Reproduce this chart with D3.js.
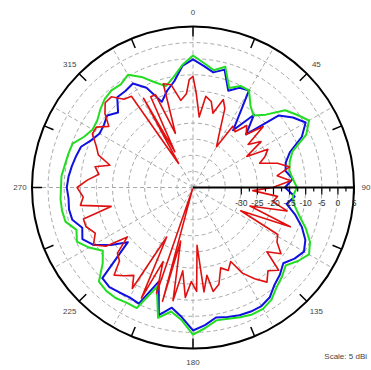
<!DOCTYPE html>
<html><head><meta charset="utf-8">
<script src="https://cdn.jsdelivr.net/npm/d3@7"></script>
<style>body{margin:0;background:#fff}svg{display:block}</style>
</head><body>
<script>
// ---- data (dBi) ----
const greenAngles = d3.range(0, 360, 5);
const greenValues = [-4.0,-6.2,-8.0,-6.2,-12.1,-10.2,-10.2,-13.9,-15.8,-13.0,-7.7,-5.6,-3.4,-6.2,-12.1,-13.9,-14.6,-13.9,
 -12.7,-13.9,-13.0,-10.8,-7.7,-4.9,-3.4,-5.2,-7.4,-5.9,-4.6,-2.5,-1.5,-1.5,-2.1,-2.8,-3.1,-1.2,
 0.7,-3.7,-5.9,-3.1,-12.1,-3.7,-3.7,-3.1,-3.1,-3.7,-8.4,-10.8,-7.7,-5.2,-6.5,-4.0,-3.7,-3.7,
 -4.0,-4.0,-4.6,-4.9,-5.2,-7.7,-9.0,-8.7,-7.4,-6.2,-5.6,-5.9,-4.6,-7.1,-10.2,-12.4,-10.2,-6.8];
const blueAngles = d3.range(0, 360, 5);
const blueValues = [-5.2,-7.1,-8.7,-7.1,-13.0,-10.8,-10.2,-23.3,-15.5,-21.7,-10.2,-7.1,-4.6,-7.7,-13.0,-15.2,-15.8,-13.9,
 -16.4,-13.3,-15.5,-12.1,-9.0,-6.5,-5.2,-6.5,-8.4,-6.8,-5.6,-3.4,-2.5,-2.5,-2.8,-3.4,-4.0,-2.1,
 -0.6,-4.6,-7.1,-4.0,-13.9,-5.2,-5.6,-5.2,-4.6,-5.2,-18.6,-13.9,-9.3,-7.1,-8.4,-6.2,-5.9,-6.2,
 -5.8,-6.2,-6.8,-7.4,-8.0,-10.2,-11.5,-11.2,-10.2,-12.1,-8.4,-8.4,-7.7,-10.8,-16.7,-13.9,-11.5,-7.1];
const redAngles = [0,2,5,8,12,15,19,22,26,30,33,37,41,45,49,52,56,60,63,67,70,74,78,82,86,90,93,96,100,104,108,112,116,119,
 123,127,131,134,138,142,146,150,153,157,161,165,169,171,174,176,178,181,184,187,190,193,195,197,199,202,205,208,211,214,
 218,222,225,229,233,236,240,245,250,254,257,261,265,270,274,278,282,285,289,293,298,302,306,310,314,318,322,326,329,331,
 333,335,338,342,344,348,352,356,358];
const redValues = [-10.5,-15.8,-23.0,-16.4,-17.7,-21.1,-16.1,-18.6,-26.4,-30.4,-22.3,-23.3,-19.5,-21.7,-16.1,-23.3,-19.5,-25.7,
 -18.9,-20.8,-23.0,-17.7,-14.3,-18.6,-14.6,-20.2,-26.4,-18.6,-19.8,-14.9,-26.4,-12.4,-28.5,-14.9,
 -13.9,-10.8,-14.6,-8.0,-10.2,-7.7,-10.8,-14.3,-19.2,-17.0,-18.6,-13.9,-12.1,-17.4,-12.4,-27.0,-12.7,-15.8,-10.8,-18.9,
 -9.3,-27.9,-8.4,-44.4,-10.2,-20.2,-7.1,-27.6,-8.4,-12.1,
 -10.2,-8.4,-12.7,-13.9,-19.5,-12.4,-9.3,-11.5,-9.6,-9.6,-18.9,-9.6,-10.8,-9.0,-12.1,-15.5,-13.9,-18.3,-13.9,-12.4,
 -9.6,-9.6,-12.7,-9.3,-7.1,-7.1,-10.2,-10.8,-36.3,-13.3,
 -32.6,-13.9,-13.9,-27.3,-11.5,-12.4,-17.7,-15.8,-11.5];
const angleLabels = ["0","45","90","135","180","225","270","315"];
const scaleTicks = [-30,-25,-20,-15,-10,-5,0,5];
const scaleText = "Scale: 5 dBi";

// ---- layout ----
const W = 371, H = 370, cx = 193, cy = 187.5, R = 161;
const svg = d3.select("body").append("svg").attr("width", W).attr("height", H);
svg.append("rect").attr("width", W).attr("height", H).attr("fill", "#fff");
const g = svg.append("g").attr("transform", `translate(${cx},${cy})`);
const r = d3.scaleLinear().domain([-45, 5]).range([0, R]);
const rad = d => d * Math.PI / 180;

// grid rings
const grid = g.append("g").attr("fill", "none").attr("stroke", "#a8a8a8").attr("stroke-width", 1).attr("stroke-dasharray", "4,3");
d3.range(-40, 1, 5).forEach(v => grid.append("circle").attr("r", r(v)));
// spokes
d3.range(0, 360, 30).forEach(a => {
  grid.append("line").attr("x1", 0).attr("y1", 0)
    .attr("x2", R * Math.sin(rad(a))).attr("y2", -R * Math.cos(rad(a)));
});

// outer circle
g.append("circle").attr("r", R).attr("fill", "none").attr("stroke", "#000").attr("stroke-width", 2);
// ticks on outer circle
d3.range(0, 360, 22.5).forEach(a => {
  const s = Math.sin(rad(a)), c = -Math.cos(rad(a));
  g.append("line").attr("x1", R * s).attr("y1", R * c).attr("x2", (R - 10) * s).attr("y2", (R - 10) * c)
    .attr("stroke", "#000").attr("stroke-width", 1.5);
});
// angle labels
angleLabels.forEach((t, i) => {
  const a = rad(i * 45), rl = R + 12 + 2 * Math.abs(Math.cos(a));
  g.append("text").attr("x", rl * Math.sin(a)).attr("y", -rl * Math.cos(a)).attr("dy", "0.35em")
    .attr("text-anchor", "middle").attr("font-family", "Arial, Liberation Sans, sans-serif")
    .attr("font-size", 8).attr("fill", "#444").text(t);
});

// series
const line = (angles, values) => d3.lineRadial().curve(d3.curveLinearClosed)
  .angle((d, i) => rad(angles[i])).radius(d => r(d))(values);
g.append("path").attr("d", line(blueAngles, blueValues)).attr("fill", "none").attr("stroke", "#1010e0").attr("stroke-width", 2).attr("stroke-linejoin", "round");
g.append("path").attr("d", line(greenAngles, greenValues)).attr("fill", "none").attr("stroke", "#22dd22").attr("stroke-width", 2).attr("stroke-linejoin", "round");
g.append("path").attr("d", line(redAngles, redValues)).attr("fill", "none").attr("stroke", "#e01010").attr("stroke-width", 1.6).attr("stroke-linejoin", "round");

// radial scale axis
const ax = g.append("g");
ax.append("line").attr("x1", 0).attr("y1", 0).attr("x2", R).attr("y2", 0).attr("stroke", "#000").attr("stroke-width", 2);
d3.range(-30, 5.1, 2.5).forEach(v => {
  const major = Math.abs(v % 5) < 0.01;
  ax.append("line").attr("x1", r(v)).attr("x2", r(v)).attr("y1", 0).attr("y2", major ? 7 : 4)
    .attr("stroke", "#000").attr("stroke-width", 1.2);
});
scaleTicks.forEach(v => {
  ax.append("text").attr("x", r(v)).attr("y", 18).attr("text-anchor", "middle")
    .attr("font-family", "Arial, Liberation Sans, sans-serif").attr("font-size", 8.5).attr("fill", "#333").text(v);
});

svg.append("text").attr("x", 367).attr("y", 359).attr("text-anchor", "end")
  .attr("font-family", "Arial, Liberation Sans, sans-serif").attr("font-size", 8).attr("fill", "#444").text(scaleText);
</script>
</body></html>
